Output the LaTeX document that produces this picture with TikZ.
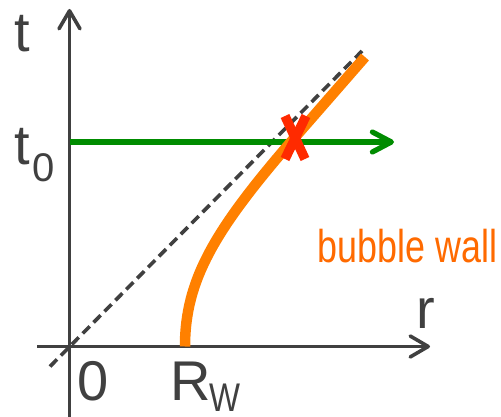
\documentclass[tikz,border=0pt]{standalone}
\usepackage{fontspec}
\setmainfont{Liberation Sans}
\usetikzlibrary{arrows.meta}
\definecolor{axisgray}{HTML}{404040}
\definecolor{wallorange}{HTML}{FF8000}
\definecolor{textorange}{HTML}{FF6A00}
\definecolor{arrowgreen}{HTML}{008C00}
\definecolor{crossred}{HTML}{FF2A00}
\tikzset{
  axisline/.style={draw=axisgray, line width=3.6pt, -{Straight Barb[length=18pt,width=21pt,round]}},
  lightline/.style={draw=axisgray, line width=3.6pt, dash pattern=on 10pt off 5.5pt},
  wallline/.style={draw=wallorange, line width=10.5pt},
  timeline/.style={draw=arrowgreen, line width=5.2pt, -{Straight Barb[length=19pt,width=20pt,round]}},
  crossline/.style={draw=crossred, line width=9.5pt},
  biglabel/.style={text=axisgray, inner sep=0pt, anchor=base, font=\fontsize{56}{60}\selectfont},
  sublabel/.style={text=axisgray, inner sep=0pt, anchor=base, font=\fontsize{40}{44}\selectfont},
  walllabel/.style={text=textorange, inner sep=0pt, anchor=base, font=\fontsize{46}{50}\selectfont}
}
\begin{document}
\begin{tikzpicture}[x=1pt,y=-1pt]
\useasboundingbox (0,0) rectangle (501,417);
% coordinates
\coordinate (tbot) at (69.5,417);
\coordinate (ttop) at (69.5,9);
\coordinate (rleft) at (37,346.5);
\coordinate (rright) at (430,346.5);
\coordinate (lcA) at (50,366.5);
\coordinate (lcB) at (362,51);
\coordinate (gA) at (69.5,142);
\coordinate (gB) at (394,142);
\coordinate (wA) at (185,346.5);
\coordinate (wM) at (290,143);
\coordinate (wB) at (365,57);
\coordinate (xA) at (285,116);
\coordinate (xB) at (305,159);
\coordinate (xC) at (306,116);
\coordinate (xD) at (285,159);
% light cone
\draw[lightline] (lcA) -- (lcB);
% axes
\draw[axisline] (tbot) -- (ttop);
\draw[axisline] (rleft) -- (rright);
% time slice
\draw[timeline] (gA) -- (gB);
% bubble wall
\draw[wallline] (wA) .. controls (185,280) and (215,230) .. (wM) -- (wB);
% cross
\draw[crossline] (xA) -- (xB);
\draw[crossline] (xC) -- (xD);
% labels
\node[biglabel] (tlab) at (22,52) {t};
\node[biglabel] (t0lab) at (22,165) {t};
\node[sublabel] (t0sub) at (44,182) {0};
\node[biglabel] (zerolab) at (93,400) {0};
\node[biglabel] (Rlab) at (191,400) {R};
\node[sublabel] (Wlab) at (225,411) {\scalebox{0.82}[1]{W}};
\node[biglabel] (rlab) at (426,328) {r};
\node[walllabel] (bwlab) at (407.5,262) {\scalebox{0.78}[1]{bubble wall}};
\end{tikzpicture}
\end{document}
